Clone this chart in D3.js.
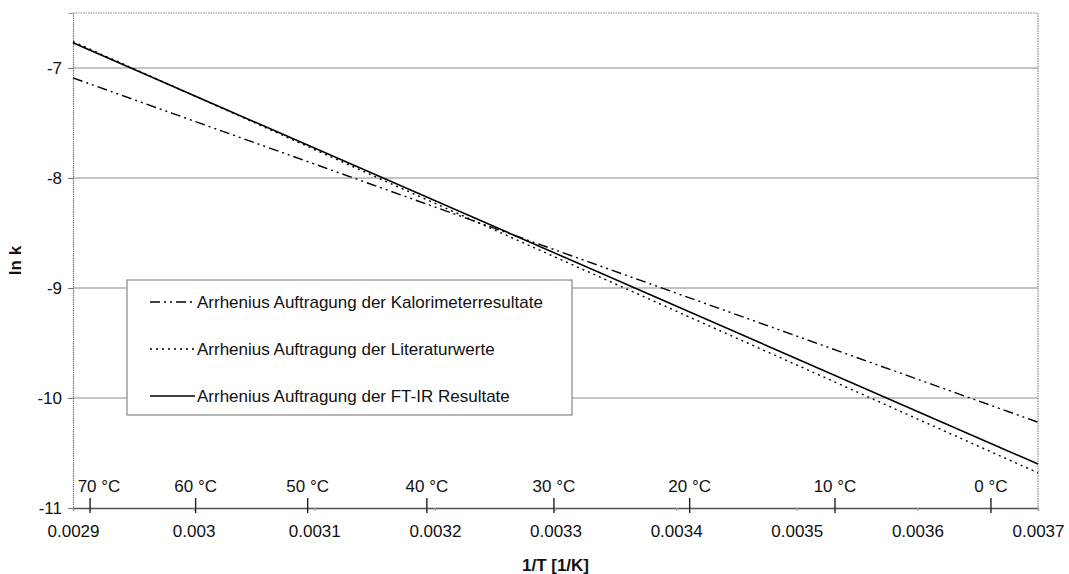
<!DOCTYPE html>
<html>
<head>
<meta charset="utf-8">
<script src="https://cdn.jsdelivr.net/npm/d3@7/dist/d3.min.js"></script>
<style>
  html, body { margin: 0; padding: 0; background: #fff; }
  svg { display: block; font-family: "Liberation Sans", Arial, sans-serif; }
</style>
</head>
<body>
<svg id="chart" width="1069" height="574"></svg>
<script>
// ---- data ----
const xEnds = [0.0029, 0.0037];
const kalorimeter = [-7.09, -10.22];
const literatur = [-6.76, -10.68];
const ftir = [-6.77, -10.60];
const xTicks = [0.0029, 0.003, 0.0031, 0.0032, 0.0033, 0.0034, 0.0035, 0.0036, 0.0037];
const yTicks = [-11, -10, -9, -8, -7];
const tempsC = [70, 60, 50, 40, 30, 20, 10, 0];
const seriesNames = [
  "Arrhenius Auftragung der Kalorimeterresultate",
  "Arrhenius Auftragung der Literaturwerte",
  "Arrhenius Auftragung der FT-IR Resultate"
];

const svg = d3.select("#chart");
const W = 1069, H = 574;
const m = { left: 73, right: 31, top: 13, bottom: 66 };
const x0 = m.left, x1 = W - m.right, y0 = m.top, y1 = H - m.bottom;

const x = d3.scaleLinear().domain([0.0029, 0.0037]).range([x0, x1]);
const y = d3.scaleLinear().domain([-11, -6.5]).range([y1, y0]);

const FS = 17;

// gridlines
svg.append("g").selectAll("line").data(yTicks.filter(v => v > -11)).join("line")
  .attr("x1", x0).attr("x2", x1)
  .attr("y1", d => y(d)).attr("y2", d => y(d))
  .attr("stroke", "#8a8a8a").attr("stroke-width", 1.2);

// plot border (top/right dotted)
svg.append("line").attr("x1", x0).attr("x2", x1).attr("y1", y0).attr("y2", y0)
  .attr("stroke", "#888").attr("stroke-width", 1.2).attr("stroke-dasharray", "1.5,1");
svg.append("line").attr("x1", x1).attr("x2", x1).attr("y1", y0).attr("y2", y1)
  .attr("stroke", "#888").attr("stroke-width", 1.2).attr("stroke-dasharray", "1.5,1");

// axes
const yAxis = d3.axisLeft(y).tickValues(yTicks).tickSize(5).tickPadding(6).tickFormat(d => String(d));
const gy = svg.append("g").attr("transform", `translate(${x0},0)`).call(yAxis);
gy.select(".domain").attr("stroke", "#777").attr("stroke-width", 1.2).attr("stroke-dasharray", "1.5,0.7");
gy.selectAll(".tick line").attr("stroke", "#777");
gy.selectAll("text").attr("font-size", FS).attr("font-family", "Liberation Sans, Arial, sans-serif").attr("fill", "#111");

const xAxis = d3.axisBottom(x).tickValues(xTicks).tickSize(3).tickPadding(14).tickFormat(d => String(+d.toFixed(4)));
const gx = svg.append("g").attr("transform", `translate(0,${y1})`).call(xAxis);
gx.select(".domain").attr("stroke", "#555").attr("stroke-width", 1.3);
gx.selectAll(".tick line").attr("stroke", "#999");
gx.selectAll("text").attr("font-size", FS).attr("font-family", "Liberation Sans, Arial, sans-serif").attr("fill", "#111");

// temperature ticks & labels
const tempX = t => x(1 / (t + 273.15));
const tg = svg.append("g");
tg.selectAll("line").data(tempsC).join("line")
  .attr("x1", d => tempX(d)).attr("x2", d => tempX(d))
  .attr("y1", y1 - 10).attr("y2", y1 + 5)
  .attr("stroke", "#222").attr("stroke-width", 1.4);
tg.selectAll("text").data(tempsC).join("text")
  .attr("x", d => Math.max(tempX(d), x0 + 26))
  .attr("y", y1 - 16)
  .attr("text-anchor", "middle")
  .attr("font-size", FS).attr("fill", "#111")
  .text(d => d + " °C");

// lines
const series = [
  { vals: kalorimeter, dash: "10,4,2,4,2,4", w: 1.4 },
  { vals: literatur, dash: "2,4", w: 1.4 },
  { vals: ftir, dash: null, w: 1.6 }
];
const line = d3.line().x(d => x(d[0])).y(d => y(d[1]));
series.forEach(s => {
  svg.append("path")
    .datum(xEnds.map((xv, i) => [xv, s.vals[i]]))
    .attr("d", line)
    .attr("fill", "none")
    .attr("stroke", "#000")
    .attr("stroke-width", s.w)
    .attr("stroke-dasharray", s.dash);
});

// legend
const lg = svg.append("g");
const lx = x(0.0029) + 54, ly = y(-9) - 8;
const lw = 445, lh = 135;
lg.append("rect").attr("x", lx).attr("y", ly).attr("width", lw).attr("height", lh)
  .attr("fill", "#fff").attr("stroke", "#888").attr("stroke-width", 1.2);
seriesNames.forEach((name, i) => {
  const ry = ly + 22 + i * 47;
  lg.append("line").attr("x1", lx + 23).attr("x2", lx + 68).attr("y1", ry).attr("y2", ry)
    .attr("stroke", "#000").attr("stroke-width", series[i].w)
    .attr("stroke-dasharray", series[i].dash);
  lg.append("text").attr("x", lx + 70).attr("y", ry).attr("dy", "0.35em")
    .attr("font-size", FS).attr("fill", "#111").text(name);
});

// axis titles
svg.append("text").attr("x", (x0 + x1) / 2).attr("y", H - 3)
  .attr("text-anchor", "middle").attr("font-size", FS).attr("font-weight", "bold")
  .attr("fill", "#111").text("1/T [1/K]");
svg.append("text")
  .attr("transform", `translate(21,${(y0 + y1) / 2}) rotate(-90)`)
  .attr("text-anchor", "middle").attr("font-size", FS).attr("font-weight", "bold")
  .attr("fill", "#111").text("ln k");
</script>
</body>
</html>
